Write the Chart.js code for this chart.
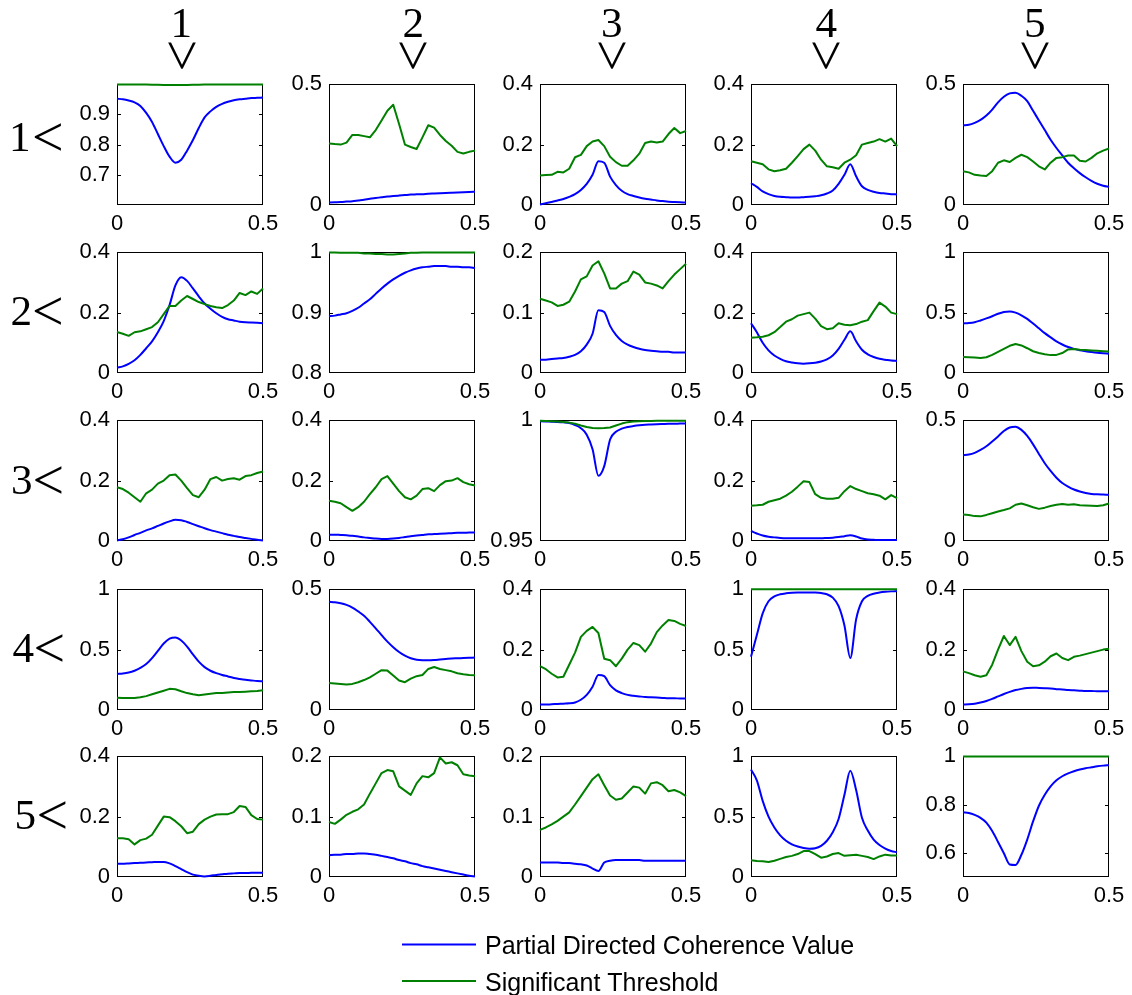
<!DOCTYPE html>
<html>
<head>
<meta charset="utf-8">
<title>Partial Directed Coherence</title>
<script src="https://cdn.jsdelivr.net/npm/chart.js@4.4.1/dist/chart.umd.min.js"></script>
<style>
  html, body { margin: 0; padding: 0; background: #fff; }
  #fig { position: relative; width: 1132px; height: 995px; overflow: hidden; background: #fff; }
  #fig canvas { position: absolute; }
</style>
</head>
<body>
<div id="fig"><canvas id="labels" width="1132" height="995" style="left:0;top:0;width:1132px;height:995px"></canvas></div>
<script>
// Normalised frequency axis shared by every panel
const freq = [0, 0.02, 0.04, 0.06, 0.08, 0.1, 0.12, 0.14, 0.16, 0.18, 0.2, 0.22, 0.24,
              0.26, 0.28, 0.3, 0.32, 0.34, 0.36, 0.38, 0.4, 0.42, 0.44, 0.46, 0.48, 0.5];
const freqTicks = [0, 0.5];
const channelNames = ['1', '2', '3', '4', '5'];
const seriesNames = ['Partial Directed Coherence Value', 'Significant Threshold'];

// Row 1
const pdc11 = [0.952,0.95,0.946,0.94,0.928,0.905,0.875,0.835,0.795,0.76,0.74,0.75,0.78,0.815,0.855,0.89,0.91,0.925,0.935,0.942,0.947,0.95,0.952,0.954,0.955,0.956];
const thr11 = [0.999,0.999,0.999,0.999,0.999,0.999,0.998,0.998,0.997,0.997,0.997,0.997,0.997,0.998,0.998,0.999,0.999,0.999,0.999,0.999,0.999,0.999,0.999,0.999,0.999,0.999];
const pdc12 = [0.01,0.011,0.012,0.014,0.016,0.019,0.022,0.026,0.029,0.032,0.035,0.037,0.039,0.041,0.043,0.044,0.045,0.047,0.048,0.049,0.05,0.051,0.052,0.053,0.054,0.055];
const thr12 = [0.255,0.252,0.25,0.258,0.29,0.29,0.285,0.28,0.31,0.35,0.39,0.415,0.335,0.25,0.24,0.232,0.28,0.33,0.32,0.29,0.265,0.245,0.22,0.213,0.22,0.225];
const pdc13 = [0.002,0.006,0.01,0.015,0.02,0.027,0.036,0.05,0.07,0.1,0.145,0.14,0.094,0.066,0.047,0.036,0.03,0.025,0.021,0.018,0.015,0.013,0.011,0.01,0.009,0.008];
const thr13 = [0.098,0.099,0.1,0.11,0.108,0.12,0.158,0.166,0.195,0.21,0.215,0.195,0.16,0.142,0.13,0.13,0.148,0.17,0.205,0.21,0.207,0.21,0.235,0.255,0.238,0.245];
const pdc14 = [0.072,0.06,0.045,0.036,0.03,0.027,0.026,0.025,0.025,0.026,0.027,0.029,0.032,0.038,0.048,0.07,0.1,0.135,0.095,0.062,0.05,0.044,0.04,0.038,0.036,0.035];
const thr14 = [0.145,0.14,0.135,0.118,0.112,0.115,0.12,0.14,0.162,0.185,0.2,0.18,0.15,0.128,0.125,0.12,0.14,0.15,0.165,0.2,0.205,0.21,0.218,0.21,0.22,0.195];
const pdc15 = [0.33,0.332,0.34,0.352,0.37,0.395,0.425,0.448,0.462,0.465,0.452,0.43,0.39,0.35,0.31,0.27,0.236,0.205,0.175,0.152,0.132,0.115,0.1,0.088,0.08,0.075];
const thr15 = [0.14,0.135,0.125,0.122,0.12,0.14,0.175,0.185,0.178,0.195,0.208,0.198,0.18,0.16,0.147,0.175,0.195,0.198,0.205,0.205,0.183,0.18,0.195,0.214,0.225,0.234];

// Row 2
const pdc21 = [0.018,0.022,0.03,0.042,0.06,0.082,0.105,0.135,0.172,0.225,0.29,0.317,0.305,0.28,0.254,0.23,0.213,0.198,0.186,0.178,0.174,0.17,0.168,0.167,0.166,0.165];
const thr21 = [0.136,0.13,0.123,0.135,0.138,0.145,0.152,0.168,0.195,0.222,0.222,0.24,0.255,0.245,0.235,0.228,0.222,0.218,0.215,0.225,0.24,0.265,0.258,0.27,0.262,0.28];
const pdc22 = [0.894,0.895,0.897,0.899,0.903,0.908,0.915,0.922,0.931,0.94,0.948,0.955,0.961,0.966,0.97,0.973,0.975,0.976,0.977,0.977,0.977,0.976,0.976,0.975,0.975,0.974];
const thr22 = [0.9995,0.9995,0.999,0.999,0.999,0.999,0.998,0.998,0.997,0.997,0.996,0.996,0.997,0.998,0.999,0.999,0.9995,0.9995,0.9995,0.9995,0.9995,0.9995,0.9995,0.9995,0.9995,0.9995];
const pdc23 = [0.022,0.022,0.023,0.024,0.025,0.027,0.03,0.036,0.047,0.065,0.104,0.101,0.078,0.063,0.053,0.047,0.043,0.04,0.038,0.037,0.036,0.035,0.035,0.034,0.034,0.034];
const thr23 = [0.123,0.12,0.117,0.111,0.113,0.118,0.135,0.155,0.16,0.178,0.185,0.165,0.14,0.14,0.148,0.152,0.168,0.163,0.15,0.148,0.145,0.14,0.152,0.163,0.172,0.181];
const pdc24 = [0.165,0.135,0.1,0.075,0.058,0.047,0.039,0.035,0.032,0.031,0.032,0.034,0.038,0.045,0.058,0.08,0.11,0.138,0.105,0.077,0.062,0.053,0.047,0.044,0.041,0.04];
const thr24 = [0.117,0.118,0.12,0.125,0.135,0.152,0.17,0.178,0.19,0.195,0.2,0.18,0.155,0.145,0.148,0.165,0.16,0.158,0.162,0.17,0.175,0.205,0.233,0.22,0.2,0.195];
const pdc25 = [0.41,0.413,0.42,0.435,0.452,0.47,0.49,0.505,0.51,0.5,0.478,0.448,0.41,0.37,0.33,0.295,0.262,0.236,0.215,0.2,0.188,0.18,0.173,0.167,0.163,0.16];
const thr25 = [0.132,0.13,0.128,0.125,0.13,0.15,0.175,0.2,0.225,0.24,0.228,0.205,0.18,0.165,0.155,0.148,0.15,0.165,0.195,0.198,0.193,0.19,0.187,0.184,0.181,0.179];

// Row 3
const pdc31 = [0.002,0.006,0.012,0.02,0.027,0.035,0.042,0.05,0.058,0.065,0.07,0.069,0.063,0.056,0.049,0.042,0.036,0.031,0.026,0.021,0.017,0.013,0.01,0.007,0.004,0.002];
const thr31 = [0.178,0.172,0.16,0.145,0.13,0.158,0.17,0.19,0.2,0.218,0.22,0.2,0.175,0.152,0.145,0.17,0.205,0.212,0.2,0.205,0.208,0.203,0.215,0.218,0.225,0.23];
const pdc32 = [0.021,0.021,0.02,0.019,0.017,0.015,0.012,0.01,0.008,0.007,0.007,0.008,0.01,0.013,0.016,0.018,0.02,0.022,0.023,0.024,0.025,0.026,0.027,0.027,0.028,0.028];
const thr32 = [0.133,0.13,0.125,0.112,0.1,0.112,0.13,0.155,0.178,0.205,0.215,0.19,0.165,0.145,0.138,0.15,0.172,0.175,0.165,0.185,0.198,0.2,0.208,0.195,0.188,0.184];
const pdc33 = [0.9996,0.9995,0.9994,0.9993,0.9991,0.9988,0.998,0.9967,0.994,0.988,0.977,0.981,0.992,0.9952,0.9965,0.9972,0.9976,0.9979,0.9981,0.9982,0.9983,0.9984,0.9985,0.9985,0.9986,0.9986];
const thr33 = [0.9998,0.9997,0.9996,0.9995,0.9993,0.999,0.9985,0.9978,0.9972,0.9968,0.9967,0.9968,0.997,0.9978,0.9986,0.9992,0.9995,0.9996,0.9997,0.9997,0.9998,0.9998,0.9998,0.9998,0.9998,0.9998];
const pdc34 = [0.033,0.025,0.018,0.014,0.012,0.01,0.009,0.009,0.009,0.009,0.009,0.009,0.009,0.01,0.011,0.013,0.016,0.019,0.015,0.008,0.005,0.004,0.003,0.003,0.003,0.003];
const thr34 = [0.117,0.118,0.12,0.13,0.135,0.14,0.15,0.163,0.18,0.198,0.195,0.155,0.143,0.14,0.14,0.143,0.165,0.182,0.172,0.165,0.158,0.155,0.15,0.138,0.152,0.142];
const pdc35 = [0.355,0.358,0.365,0.377,0.392,0.412,0.433,0.455,0.47,0.473,0.46,0.435,0.4,0.36,0.322,0.29,0.262,0.24,0.225,0.213,0.205,0.199,0.195,0.193,0.192,0.191];
const thr35 = [0.11,0.108,0.103,0.102,0.108,0.115,0.122,0.128,0.135,0.15,0.155,0.148,0.14,0.133,0.138,0.145,0.15,0.153,0.15,0.152,0.148,0.147,0.146,0.145,0.148,0.155];

// Row 4
const pdc41 = [0.298,0.302,0.31,0.325,0.348,0.38,0.43,0.49,0.55,0.59,0.6,0.575,0.525,0.46,0.4,0.355,0.325,0.305,0.29,0.278,0.265,0.257,0.25,0.245,0.24,0.238];
const thr41 = [0.102,0.1,0.099,0.1,0.105,0.115,0.13,0.145,0.16,0.175,0.172,0.155,0.14,0.13,0.122,0.128,0.135,0.14,0.14,0.145,0.148,0.15,0.152,0.155,0.158,0.163];
const pdc42 = [0.448,0.446,0.442,0.435,0.424,0.408,0.39,0.365,0.338,0.31,0.283,0.26,0.24,0.225,0.214,0.208,0.206,0.206,0.207,0.209,0.211,0.213,0.214,0.215,0.216,0.217];
const thr42 = [0.112,0.11,0.108,0.106,0.108,0.115,0.124,0.135,0.15,0.165,0.163,0.143,0.122,0.115,0.13,0.14,0.145,0.17,0.178,0.17,0.165,0.16,0.152,0.148,0.145,0.144];
const pdc43 = [0.018,0.018,0.019,0.02,0.021,0.022,0.025,0.034,0.05,0.077,0.116,0.112,0.082,0.065,0.056,0.05,0.047,0.045,0.043,0.042,0.041,0.04,0.039,0.039,0.038,0.038];
const thr43 = [0.145,0.135,0.12,0.108,0.11,0.15,0.19,0.242,0.262,0.275,0.255,0.17,0.165,0.145,0.17,0.2,0.222,0.215,0.193,0.22,0.258,0.28,0.298,0.295,0.285,0.278];
const pdc44 = [0.44,0.62,0.8,0.9,0.94,0.958,0.966,0.97,0.972,0.973,0.973,0.972,0.968,0.958,0.93,0.86,0.7,0.43,0.75,0.9,0.945,0.963,0.972,0.978,0.982,0.985];
const thr44 = [0.999,0.999,0.999,0.999,0.999,0.999,0.999,0.999,0.999,0.999,0.999,0.999,0.999,0.999,0.999,0.999,0.999,0.999,0.999,0.999,0.999,0.999,0.999,0.999,0.999,0.999];
const pdc45 = [0.018,0.019,0.021,0.025,0.03,0.037,0.045,0.053,0.06,0.066,0.07,0.073,0.074,0.073,0.072,0.071,0.069,0.068,0.066,0.065,0.064,0.063,0.063,0.062,0.062,0.062];
const thr45 = [0.128,0.122,0.115,0.11,0.115,0.15,0.2,0.245,0.215,0.242,0.195,0.16,0.145,0.148,0.16,0.178,0.187,0.172,0.165,0.176,0.18,0.185,0.19,0.195,0.2,0.203];

// Row 5
const pdc51 = [0.044,0.044,0.045,0.046,0.047,0.048,0.049,0.05,0.05,0.045,0.036,0.026,0.016,0.008,0.004,0.002,0.004,0.007,0.009,0.011,0.012,0.013,0.013,0.014,0.014,0.014];
const thr51 = [0.128,0.128,0.125,0.108,0.122,0.127,0.14,0.17,0.2,0.198,0.185,0.168,0.145,0.15,0.175,0.19,0.2,0.207,0.208,0.208,0.215,0.235,0.232,0.205,0.192,0.19];
const pdc52 = [0.036,0.037,0.037,0.038,0.038,0.039,0.039,0.038,0.037,0.035,0.033,0.031,0.028,0.026,0.023,0.021,0.018,0.016,0.014,0.012,0.01,0.008,0.006,0.004,0.002,0.001];
const thr52 = [0.091,0.088,0.095,0.103,0.108,0.112,0.12,0.138,0.155,0.172,0.177,0.175,0.15,0.143,0.136,0.155,0.167,0.165,0.172,0.198,0.188,0.19,0.185,0.17,0.168,0.167];
const pdc53 = [0.024,0.024,0.024,0.024,0.023,0.023,0.022,0.021,0.019,0.014,0.01,0.024,0.027,0.028,0.028,0.028,0.028,0.028,0.027,0.027,0.027,0.027,0.027,0.027,0.027,0.027];
const thr53 = [0.078,0.082,0.087,0.093,0.1,0.107,0.12,0.134,0.148,0.162,0.17,0.152,0.135,0.128,0.13,0.14,0.15,0.148,0.138,0.155,0.157,0.152,0.142,0.144,0.14,0.134];
const pdc54 = [0.89,0.8,0.63,0.5,0.41,0.345,0.3,0.27,0.252,0.24,0.234,0.238,0.258,0.3,0.37,0.48,0.68,0.88,0.72,0.49,0.385,0.31,0.265,0.235,0.215,0.205];
const thr54 = [0.138,0.132,0.13,0.125,0.135,0.15,0.165,0.175,0.19,0.215,0.215,0.19,0.16,0.17,0.19,0.198,0.175,0.18,0.185,0.175,0.165,0.148,0.17,0.185,0.178,0.178];
const pdc55 = [0.768,0.765,0.757,0.745,0.725,0.69,0.645,0.598,0.552,0.55,0.592,0.655,0.73,0.795,0.84,0.875,0.9,0.917,0.929,0.938,0.945,0.95,0.954,0.958,0.961,0.963];
const thr55 = [0.999,0.999,0.999,0.999,0.999,0.999,0.999,0.999,0.999,0.999,0.999,0.999,0.999,0.999,0.999,0.999,0.999,0.999,0.999,0.999,0.999,0.999,0.999,0.999,0.999,0.999];

// Vertical limits and labelled ticks of each panel
const yLow  = [[0.6, 0, 0, 0, 0], [0, 0.8, 0, 0, 0], [0, 0, 0.95, 0, 0], [0, 0, 0, 0, 0], [0, 0, 0, 0, 0.5]];
const yHigh = [[1, 0.5, 0.4, 0.4, 0.5], [0.4, 1, 0.2, 0.4, 1], [0.4, 0.4, 1, 0.4, 0.5], [1, 0.5, 0.4, 1, 0.4], [0.4, 0.2, 0.2, 1, 1]];
const yTicks = [
  [[0.7, 0.8, 0.9], [0, 0.5], [0, 0.2, 0.4], [0, 0.2, 0.4], [0, 0.5]],
  [[0, 0.2, 0.4], [0.8, 0.9, 1], [0, 0.1, 0.2], [0, 0.2, 0.4], [0, 0.5, 1]],
  [[0, 0.2, 0.4], [0, 0.2, 0.4], [0.95, 1], [0, 0.2, 0.4], [0, 0.5]],
  [[0, 0.5, 1], [0, 0.5], [0, 0.2, 0.4], [0, 0.5, 1], [0, 0.2, 0.4]],
  [[0, 0.2, 0.4], [0, 0.1, 0.2], [0, 0.1, 0.2], [0, 0.5, 1], [0.6, 0.8, 1]]
];

const pdc = [
  [pdc11, pdc12, pdc13, pdc14, pdc15],
  [pdc21, pdc22, pdc23, pdc24, pdc25],
  [pdc31, pdc32, pdc33, pdc34, pdc35],
  [pdc41, pdc42, pdc43, pdc44, pdc45],
  [pdc51, pdc52, pdc53, pdc54, pdc55]
];
const thr = [
  [thr11, thr12, thr13, thr14, thr15],
  [thr21, thr22, thr23, thr24, thr25],
  [thr31, thr32, thr33, thr34, thr35],
  [thr41, thr42, thr43, thr44, thr45],
  [thr51, thr52, thr53, thr54, thr55]
];

// ---- layout and style ----
const BLUE = '#0000ff';
const GREEN = '#008000';
const SANS = '"Liberation Sans", Arial, Helvetica, sans-serif';
const SERIF = '"Liberation Serif", "Times New Roman", serif';
const TICK_SIZE = 22;
const panelLeft = [117, 329, 540, 751, 963];
const panelTop = [84, 252, 420, 589, 756];
const PANEL_W = 146, PANEL_H = 121;
const PAD_L = 62, PAD_R = 28, PAD_T = 20, PAD_B = 40;

Chart.defaults.font.family = SANS;
Chart.defaults.color = '#000';

// Axes box with short inward tick marks, drawn under the curves
const boxPlugin = {
  id: 'axesBox',
  beforeDatasetsDraw(chart) {
    const { ctx, chartArea: a } = chart;
    const y = chart.scales.y;
    const L = Math.round(a.left), R = Math.round(a.right);
    const T = Math.round(a.top), B = Math.round(a.bottom);
    ctx.save();
    ctx.strokeStyle = '#000';
    ctx.lineWidth = 1;
    ctx.strokeRect(L + 0.5, T + 0.5, R - L - 1, B - T - 1);
    ctx.beginPath();
    y.ticks.forEach(t => {
      if (t.value <= y.min || t.value >= y.max) return;
      const py = Math.round(y.getPixelForValue(t.value)) + 0.5;
      ctx.moveTo(L, py); ctx.lineTo(L + 4, py);
      ctx.moveTo(R - 4, py); ctx.lineTo(R, py);
    });
    ctx.stroke();
    ctx.restore();
  }
};

const fig = document.getElementById('fig');

function makePanel(r, c) {
  const cv = document.createElement('canvas');
  const W = PAD_L + PANEL_W + PAD_R;
  const H = PAD_T + PANEL_H + PAD_B;
  cv.width = W; cv.height = H;
  cv.style.width = W + 'px'; cv.style.height = H + 'px';
  cv.style.left = (panelLeft[c] - PAD_L) + 'px';
  cv.style.top = (panelTop[r] - PAD_T) + 'px';
  fig.appendChild(cv);

  const ticksY = yTicks[r][c];
  const blue = pdc[r][c], green = thr[r][c];

  new Chart(cv, {
    type: 'line',
    data: {
      datasets: [
        {
          label: seriesNames[0],
          data: freq.map((f, i) => ({ x: f, y: blue[i] })),
          borderColor: BLUE, borderWidth: 2, pointRadius: 0,
          cubicInterpolationMode: 'monotone', borderJoinStyle: 'round',
          order: 1, clip: false
        },
        {
          label: seriesNames[1],
          data: freq.map((f, i) => ({ x: f, y: green[i] })),
          borderColor: GREEN, borderWidth: 2, pointRadius: 0,
          tension: 0, borderJoinStyle: 'round',
          order: 0, clip: false
        }
      ]
    },
    options: {
      responsive: false,
      animation: false,
      devicePixelRatio: 1,
      events: [],
      layout: { padding: { top: PAD_T, right: PAD_R, left: 0, bottom: 0 } },
      plugins: { legend: { display: false }, tooltip: { enabled: false } },
      scales: {
        x: {
          type: 'linear', min: 0, max: 0.5,
          grid: { display: false, drawTicks: false },
          border: { display: false },
          afterBuildTicks: s => { s.ticks = freqTicks.map(v => ({ value: v })); },
          afterFit: s => { s.height = PAD_B; },
          ticks: { color: '#000', font: { size: TICK_SIZE }, padding: 6, maxRotation: 0, autoSkip: false,
                   callback: v => String(v) }
        },
        y: {
          type: 'linear', min: yLow[r][c], max: yHigh[r][c],
          grid: { display: false, drawTicks: false },
          border: { display: false },
          afterBuildTicks: s => { s.ticks = ticksY.map(v => ({ value: v })); },
          afterFit: s => { s.width = PAD_L; },
          ticks: { color: '#000', font: { size: TICK_SIZE }, padding: 7, autoSkip: false,
                   callback: v => String(v) }
        }
      }
    },
    plugins: [boxPlugin]
  });
}

for (let r = 0; r < 5; r++) for (let c = 0; c < 5; c++) makePanel(r, c);

// ---- channel labels and legend ----
const lc = document.getElementById('labels').getContext('2d');
lc.fillStyle = '#000';
lc.textAlign = 'left';
lc.textBaseline = 'alphabetic';

// font size that gives a glyph the requested ink height
function fitFont(text, family, inkH) {
  lc.font = '100px ' + family;
  const m = lc.measureText(text);
  return (inkH / (m.actualBoundingBoxAscent + m.actualBoundingBoxDescent)) * 100;
}
// draw text with its ink box centred on (cx, cy)
function inkCentered(text, font, cx, cy) {
  lc.font = font;
  const m = lc.measureText(text);
  const w = m.actualBoundingBoxLeft + m.actualBoundingBoxRight;
  const h = m.actualBoundingBoxAscent + m.actualBoundingBoxDescent;
  lc.fillText(text, cx - w / 2 + m.actualBoundingBoxLeft, cy - h / 2 + m.actualBoundingBoxAscent);
}

const digitSize = fitFont('1', SERIF, 28.5);
const relSize = fitFont('<', SERIF, 27.5);
const digitFont = digitSize.toFixed(1) + 'px ' + SERIF;
const relFont = relSize.toFixed(1) + 'px ' + SERIF;

// column headers: "j" above a downward wedge
const headX = [181.5, 413, 612, 826, 1035];
channelNames.forEach((name, c) => {
  inkCentered(name, digitFont, headX[c], 23.3);
  lc.save();
  lc.translate(headX[c], 56);
  lc.rotate(-Math.PI / 2);
  inkCentered('<', relFont, 0, 0);
  lc.restore();
});

// row labels: "i<"
const rowY = [137, 311, 480, 648, 815];
const rowDigitX = [20, 21, 22, 23, 25.5];
const rowRelX = [47.5, 47.5, 48, 49, 52];
channelNames.forEach((name, r) => {
  inkCentered(name, digitFont, rowDigitX[r], rowY[r]);
  inkCentered('<', relFont, rowRelX[r], rowY[r]);
});

// legend
const legendRows = [
  { y: 944.5, base: 954, color: BLUE, text: seriesNames[0] },
  { y: 981, base: 990.5, color: GREEN, text: seriesNames[1] }
];
legendRows.forEach(item => {
  lc.strokeStyle = item.color;
  lc.lineWidth = 2;
  lc.beginPath();
  lc.moveTo(402, item.y);
  lc.lineTo(476, item.y);
  lc.stroke();
  lc.font = '25px ' + SANS;
  lc.fillStyle = '#000';
  lc.fillText(item.text, 485, item.base);
});
</script>
</body>
</html>
